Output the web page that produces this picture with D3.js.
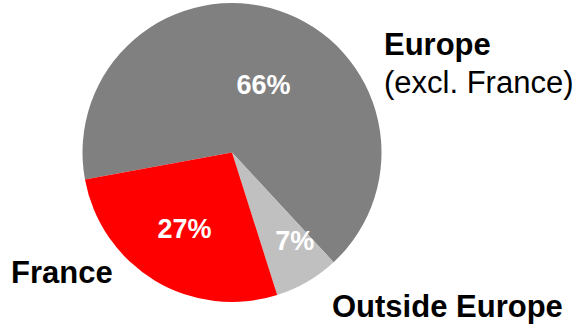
<!DOCTYPE html>
<html>
<head>
<meta charset="utf-8">
<script src="https://cdn.jsdelivr.net/npm/d3@7"></script>
<style>
  body { margin: 0; background: #fff; }
  svg { display: block; font-family: "Liberation Sans", Arial, sans-serif; }
</style>
</head>
<body>
<div id="chart"></div>
<script>
// data
var regions = ["Europe (excl. France)", "Outside Europe", "France"];
var shares = [66, 7, 27];
var colors = ["#808080", "#c0c0c0", "#ff0000"];

var width = 582, height = 324;
var cx = 232, cy = 152.5, radius = 149.5;

var svg = d3.select("#chart").append("svg")
    .attr("width", width)
    .attr("height", height);

var g = svg.append("g")
    .attr("transform", "translate(" + cx + "," + cy + ")");

//Europe starts just left of 9 o'clock and runs clockwise
var startDeg = -100.4;
var pie = d3.pie()
    .sort(null)
    .value(function(d) { return d; })
    .startAngle(startDeg * Math.PI / 180)
    .endAngle((startDeg + 360) * Math.PI / 180);

var arcs = pie(shares);

var arc = d3.arc()
    .innerRadius(0)
    .outerRadius(radius);

g.selectAll("path.slice")
    .data(arcs)
    .enter().append("path")
    .attr("class", "slice")
    .attr("d", arc)
    .attr("fill", function(d, i) { return colors[i]; });

//percent labels: radius fraction + angle nudge (deg) per slice, to mimic excel placement
var labelR = [0.5, 0.72, 0.6];
var labelNudge = [6.5, -5.5, 1];

g.selectAll("text.pct")
    .data(arcs)
    .enter().append("text")
    .attr("class", "pct")
    .attr("transform", function(d, i) {
      var a = (d.startAngle + d.endAngle) / 2 + labelNudge[i] * Math.PI / 180;
      var r = radius * labelR[i];
      return "translate(" + (r * Math.sin(a)) + "," + (-r * Math.cos(a)) + ")";
    })
    .attr("text-anchor", "middle")
    .attr("dy", "0.36em")
    .attr("fill", "#fff")
    .attr("font-weight", "bold")
    .attr("font-size", "27px")
    .text(function(d) { return d.value + "%"; });

//category labels
var cat = svg.append("g")
    .attr("font-size", "31px")
    .attr("fill", "#000");

cat.append("text")
    .attr("x", 384).attr("y", 55)
    .attr("font-weight", "bold")
    .text("Europe");
cat.append("text")
    .attr("x", 384).attr("y", 93)
    .text("(excl. France)");
cat.append("text")
    .attr("x", 11).attr("y", 283)
    .attr("font-weight", "bold")
    .text("France");
cat.append("text")
    .attr("x", 332).attr("y", 317)
    .attr("font-weight", "bold")
    .text("Outside Europe");
</script>
</body>
</html>
